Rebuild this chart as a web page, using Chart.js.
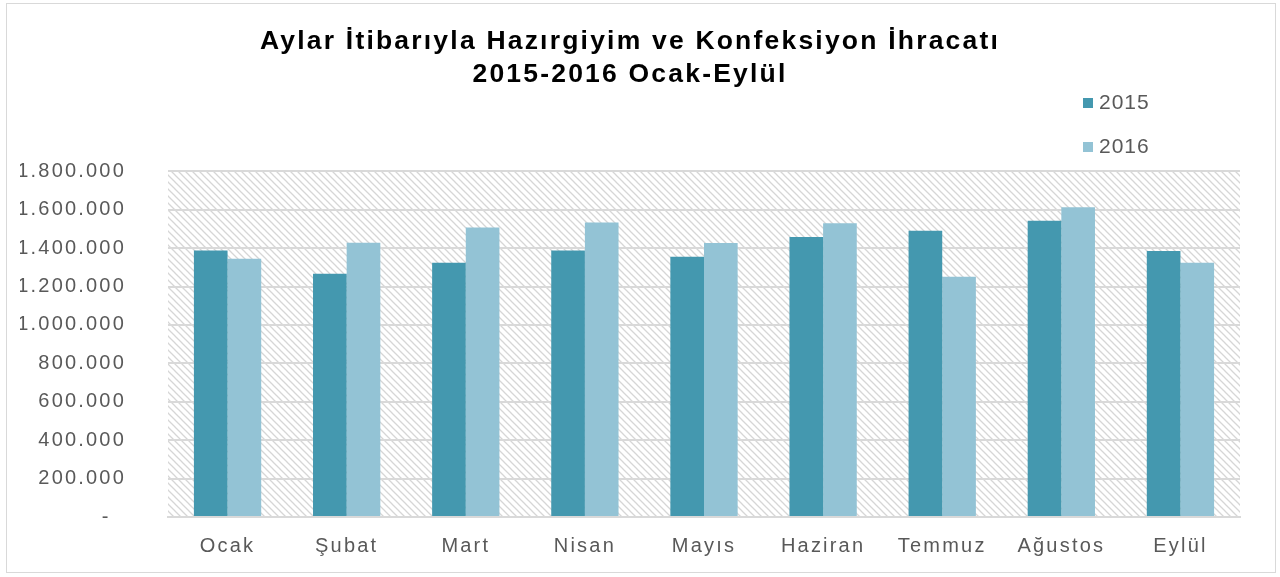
<!DOCTYPE html>
<html>
<head>
<meta charset="utf-8">
<script src="https://cdn.jsdelivr.net/npm/chart.js@4"></script>
<style>
  body { margin: 0; background: #fff; font-family: "Liberation Sans", Arial, sans-serif; }
  .frame { position: absolute; left: 6px; top: 3px; width: 1268px; height: 568px; border: 1px solid #d9d9d9; }
  .wrap { position: absolute; left: 0; top: 0; width: 1280px; height: 577px; }
  .legend { position: absolute; left: 1083px; top: 90px; font-size: 21px; color: #595959; letter-spacing: 1px; }
  .legend div { height: 44px; display: flex; align-items: flex-start; }
  .legend span.box { display: inline-block; width: 10px; height: 10px; margin: 8px 6px 0 0; }
</style>
</head>
<body>
<div class="frame"></div>
<div class="wrap"><canvas id="c" width="1280" height="577"></canvas></div>
<div class="legend" id="legend"></div>
<script>
// ─── Data ───
const months = ['Ocak', 'Şubat', 'Mart', 'Nisan', 'Mayıs', 'Haziran', 'Temmuz', 'Ağustos', 'Eylül'];
const exports2015 = [1387000, 1266000, 1324000, 1387000, 1355000, 1458000, 1490000, 1542000, 1385000];
const exports2016 = [1345000, 1428000, 1507000, 1533000, 1427000, 1529000, 1251000, 1613000, 1324000];
const seriesLabels = ['2015', '2016'];
const seriesColors = ['#4498AF', '#93C3D5'];
const titleLines = ['Aylar İtibarıyla Hazırgiyim ve Konfeksiyon İhracatı', '2015-2016 Ocak-Eylül'];

// ─── Hatched plot background ───
function hatchPattern(ctx) {
  const s = 7;
  const p = document.createElement('canvas');
  p.width = s; p.height = s;
  const g = p.getContext('2d');
  g.strokeStyle = '#d6d6d6';
  g.lineWidth = 1.3;
  g.beginPath();
  g.moveTo(-1, -1); g.lineTo(s + 1, s + 1);
  g.moveTo(-1, s - 1); g.lineTo(1, s + 1);
  g.moveTo(s - 1, -1); g.lineTo(s + 1, 1);
  g.stroke();
  return ctx.createPattern(p, 'repeat');
}

// spaced-out text like the original export, plus the hatch fill
const SPACING = '2.2px';
const hatchBg = {
  id: 'hatchBg',
  beforeInit(chart) { chart.ctx.letterSpacing = SPACING; },
  beforeDraw(chart) {
    const { ctx, chartArea: a } = chart;
    ctx.letterSpacing = SPACING;
    ctx.save();
    ctx.fillStyle = hatchPattern(ctx);
    ctx.fillRect(a.left, a.top, a.right - a.left, a.bottom - a.top);
    ctx.restore();
  }
};

// accounting style: zero shown as a dash, indented
const fmt = v => v === 0 ? '-  ' : v.toLocaleString('de-DE');

const chart = new Chart(document.getElementById('c'), {
  type: 'bar',
  data: {
    labels: months,
    datasets: [
      { label: seriesLabels[0], data: exports2015, backgroundColor: seriesColors[0] },
      { label: seriesLabels[1], data: exports2016, backgroundColor: seriesColors[1] }
    ]
  },
  options: {
    responsive: false,
    animation: false,
    layout: { padding: { left: 20, right: 40, top: 0, bottom: 10 } },
    datasets: { bar: { barPercentage: 1, categoryPercentage: 0.565 } },
    plugins: {
      legend: { display: false },
      tooltip: { enabled: false },
      title: {
        display: true,
        text: titleLines,
        color: '#000',
        font: { family: 'Liberation Sans', size: 26.5, weight: 'bold', lineHeight: 1.25 },
        padding: { top: 25, bottom: 80 }
      }
    },
    scales: {
      x: {
        grid: { display: false },
        border: { color: '#d9d9d9', width: 2 },
        ticks: { color: '#595959', font: { family: 'Liberation Sans', size: 20 }, padding: 9 }
      },
      y: {
        min: 0, max: 1800000,
        afterFit(scale) { scale.width = 148; },
        grid: { color: '#d9d9d9', lineWidth: 2, drawTicks: false },
        border: { display: false },
        ticks: {
          stepSize: 200000,
          color: '#595959',
          font: { family: 'Liberation Sans', size: 20 },
          padding: 42,
          callback: v => fmt(v)
        }
      }
    }
  },
  plugins: [hatchBg]
});

// ─── Legend ───
document.getElementById('legend').innerHTML = seriesLabels
  .map((l, i) => `<div><span class="box" style="background:${seriesColors[i]}"></span>${l}</div>`)
  .join('');
</script>
</body>
</html>
